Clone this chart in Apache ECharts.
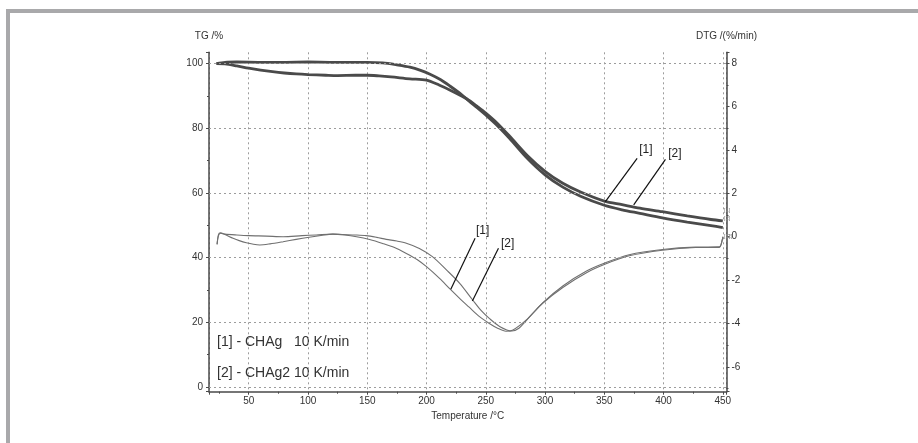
<!DOCTYPE html>
<html>
<head>
<meta charset="utf-8">
<script src="https://cdn.jsdelivr.net/npm/echarts/dist/echarts.min.js"></script>
<style>
  html, body { margin: 0; padding: 0; background: #fff; }
  #frame { position: absolute; left: 6px; top: 9px; width: 912px; height: 434px;
           border-top: 4px solid #a9a9ab; border-left: 4px solid #a9a9ab; box-sizing: border-box; }
  #chart { position: absolute; left: 0; top: 0; width: 918px; height: 443px; }
</style>
</head>
<body>
<div id="frame"></div>
<div id="chart"></div>
<script>
// ---- Data ----
// TG curves (left axis, %)
const tg1Temp = [22.8,30,40,50,60,70,80,90,100,115,125,140,150,160,170,186,200,211,220,230,236,243,250,259,270,285,300,315,330,350,365,380,399,420,440,450];
const tg1Val  = [100.0,99.9,99.3,98.6,98.0,97.5,97.1,96.8,96.6,96.4,96.3,96.4,96.4,96.2,95.9,95.3,94.9,93.3,91.8,89.9,88.6,86.7,84.7,81.8,77.6,71.6,66.7,63.0,60.3,57.5,56.4,55.3,54.2,52.9,51.8,51.4];
const tg2Temp = [22.8,30,40,60,80,100,120,150,163,175,186,195,203,212,220,230,236,243,250,259,270,285,300,315,330,350,365,380,399,420,440,450];
const tg2Val  = [100.0,100.4,100.5,100.4,100.4,100.5,100.4,100.4,100.2,99.6,98.9,97.9,96.7,95.0,93.0,90.3,88.4,86.3,84.1,81.1,76.9,70.7,65.6,61.8,59.0,56.2,54.8,53.7,52.3,51.0,49.9,49.3];
// DTG curves (right axis, %/min)
const dtg1Temp = [23.3,24.5,26.1,30,36.8,42,48,54,59.3,68,79,90,101,111,121,131,141,152,163,173,183,192,200,211,220,229,236,245,253,260,267,273,284,298,315,335,351,371,399,427,447,449.5,450];
const dtg1Val  = [-0.35,0.1,0.18,0.1,-0.07,-0.18,-0.28,-0.35,-0.38,-0.33,-0.23,-0.12,-0.02,0.06,0.12,0.08,0.0,-0.13,-0.31,-0.5,-0.77,-1.05,-1.38,-1.92,-2.42,-2.9,-3.25,-3.7,-4.0,-4.22,-4.36,-4.3,-3.85,-3.07,-2.34,-1.66,-1.26,-0.88,-0.62,-0.5,-0.49,-0.15,0.0];
const dtg2Temp = [23.3,24.5,26.1,30,40,50,65,79,95,107,121,129,140,149,158,166,175,183,194,205,217,228,239,246,253,262,272,278,284,298,315,335,351,371,399,427,447,449.5,450];
const dtg2Val  = [-0.35,0.05,0.16,0.12,0.08,0.05,0.03,0.0,0.05,0.08,0.12,0.1,0.08,0.05,-0.03,-0.12,-0.2,-0.3,-0.54,-0.92,-1.54,-2.15,-2.92,-3.4,-3.77,-4.15,-4.35,-4.22,-3.88,-3.05,-2.27,-1.58,-1.2,-0.83,-0.59,-0.48,-0.47,-0.15,0.0];

// Axis ranges and tick steps
const xRange = [16.5, 453.1];   const xStep = 50;
const tgRange = [-1.45, 103.5]; const tgStep = 20;
const dtgRange = [-7.15, 8.51]; const dtgStep = 2;
const tgGridValues = [0, 20, 40, 60, 80, 100];

// Annotation leader lines (in temperature / TG coordinates)
const annoText      = ['[1]', '[2]', '[1]', '[2]'];
const annoLabelTemp = [385.1, 409.6, 247.4, 268.5];
const annoLabelTG   = [73.3, 72.2, 48.3, 44.2];
const annoFromTemp  = [377.7, 401.6, 241.0, 260.7];
const annoFromTG    = [70.7, 70.4, 46.0, 42.9];
const annoToTemp    = [350.9, 374.8, 220.5, 238.7];
const annoToTG      = [57.3, 56.3, 30.2, 26.6];

const legendLines = ['[1] - CHAg   10 K/min', '[2] - CHAg2 10 K/min'];

// ---- Build ----
const zip = (a, b) => a.map((v, i) => [v, b[i]]);
const FONT = 'Liberation Sans, Arial, sans-serif';
const AX = '#4a4a4a';
const GRID = { color: '#9c9c9c', type: [2, 3], width: 1 };
const onStep = step => v => (Math.abs(v / step - Math.round(v / step)) < 1e-6 ? String(Math.round(v)) : '');

const chart = echarts.init(document.getElementById('chart'), null, { renderer: 'canvas' });

const tgLine = { color: '#4a4a4a', width: 2.8 };
const dtgLine = { color: '#707070', width: 1.1 };

const option = {
  animation: false,
  backgroundColor: 'transparent',
  grid: { left: 209, right: 191.5, top: 52.3, bottom: 51.3, containLabel: false },
  xAxis: {
    type: 'value', min: xRange[0], max: xRange[1],
    minInterval: xStep, maxInterval: xStep, splitNumber: 9,
    name: 'Temperature /°C', nameLocation: 'middle', nameGap: 15,
    nameTextStyle: { fontFamily: FONT, fontSize: 10, color: '#333' },
    axisLine: { show: true, onZero: false, lineStyle: { color: AX, width: 1.5 } },
    axisTick: { show: true, inside: false, length: 3, lineStyle: { color: AX } },
    minorTick: { show: true, splitNumber: 2, length: 2, lineStyle: { color: AX } },
    axisLabel: { margin: 5, fontFamily: FONT, fontSize: 10, color: '#333', formatter: onStep(xStep) },
    splitLine: { show: true, lineStyle: GRID }
  },
  yAxis: [
    {
      type: 'value', position: 'left', min: tgRange[0], max: tgRange[1],
      minInterval: tgStep, maxInterval: tgStep, splitNumber: 5,
      name: 'TG /%', nameLocation: 'end', nameGap: 11,
      nameTextStyle: { fontFamily: FONT, fontSize: 10, color: '#333', align: 'center' },
      axisLine: { show: true, onZero: false, lineStyle: { color: AX, width: 1.5 } },
      axisTick: { show: true, inside: false, length: 3, lineStyle: { color: AX } },
      minorTick: { show: true, splitNumber: 2, length: 2, lineStyle: { color: AX } },
      axisLabel: { margin: 6, fontFamily: FONT, fontSize: 10, color: '#333', formatter: onStep(tgStep) },
      splitLine: { show: false }
    },
    {
      type: 'value', position: 'right', min: dtgRange[0], max: dtgRange[1],
      minInterval: dtgStep, maxInterval: dtgStep, splitNumber: 8,
      name: 'DTG /(%/min)', nameLocation: 'end', nameGap: 11,
      nameTextStyle: { fontFamily: FONT, fontSize: 10, color: '#333', align: 'center' },
      axisLine: { show: true, onZero: false, lineStyle: { color: AX, width: 1.5 } },
      axisTick: { show: true, inside: false, length: 3, lineStyle: { color: AX } },
      minorTick: { show: true, splitNumber: 2, length: 2, lineStyle: { color: AX } },
      axisLabel: { margin: 5, fontFamily: FONT, fontSize: 10, color: '#333', formatter: onStep(dtgStep) },
      splitLine: { show: false }
    }
  ],
  series: [
    {
      name: 'grid', type: 'line', yAxisIndex: 0, data: [], z: 1, silent: true,
      markLine: {
        silent: true, symbol: ['none', 'none'], label: { show: false }, lineStyle: GRID,
        data: tgGridValues.map(v => ({ yAxis: v }))
      }
    },
    {
      name: 'TG CHAg', type: 'line', yAxisIndex: 0, data: zip(tg1Temp, tg1Val),
      showSymbol: false, symbol: 'none', smooth: 0.3, lineStyle: tgLine, z: 3,
      endLabel: { show: true, formatter: '[1]', fontSize: 6, color: '#888', fontFamily: FONT, offset: [-7, -10] },
      markLine: {
        silent: true, symbol: ['none', 'none'], label: { show: false },
        lineStyle: { color: '#111', width: 1.2, type: 'solid' },
        data: annoText.map((t, i) => [
          { coord: [annoFromTemp[i], annoFromTG[i]] },
          { coord: [annoToTemp[i], annoToTG[i]] }
        ])
      },
      markPoint: {
        silent: true, symbol: 'circle', symbolSize: 1,
        itemStyle: { color: 'rgba(0,0,0,0)' },
        label: { show: true, position: 'inside', formatter: '{b}', color: '#222', fontSize: 12, fontFamily: FONT },
        data: annoText.map((t, i) => ({ name: t, coord: [annoLabelTemp[i], annoLabelTG[i]] }))
      }
    },
    {
      name: 'TG CHAg2', type: 'line', yAxisIndex: 0, data: zip(tg2Temp, tg2Val),
      showSymbol: false, symbol: 'none', smooth: 0.3, lineStyle: tgLine, z: 3,
      endLabel: { show: true, formatter: '[2]', fontSize: 6, color: '#888', fontFamily: FONT, offset: [-7, -9] }
    },
    {
      name: 'DTG CHAg', type: 'line', yAxisIndex: 1, data: zip(dtg1Temp, dtg1Val),
      showSymbol: false, symbol: 'none', smooth: 0.3, lineStyle: dtgLine, z: 2,
      endLabel: { show: true, formatter: '[1]', fontSize: 6, color: '#888', fontFamily: FONT, offset: [-7, 0] }
    },
    {
      name: 'DTG CHAg2', type: 'line', yAxisIndex: 1, data: zip(dtg2Temp, dtg2Val),
      showSymbol: false, symbol: 'none', smooth: 0.3, lineStyle: dtgLine, z: 2,
      endLabel: { show: true, formatter: '[2]', fontSize: 6, color: '#888', fontFamily: FONT, offset: [-5, 0] }
    }
  ],
  graphic: legendLines.map((t, i) => ({
    type: 'text', x: 217, y: 342 + i * 31.5, silent: true,
    style: { text: t, fill: '#333', font: '14px ' + FONT, verticalAlign: 'middle', textVerticalAlign: 'middle' }
  }))
};

chart.setOption(option);
</script>
</body>
</html>
